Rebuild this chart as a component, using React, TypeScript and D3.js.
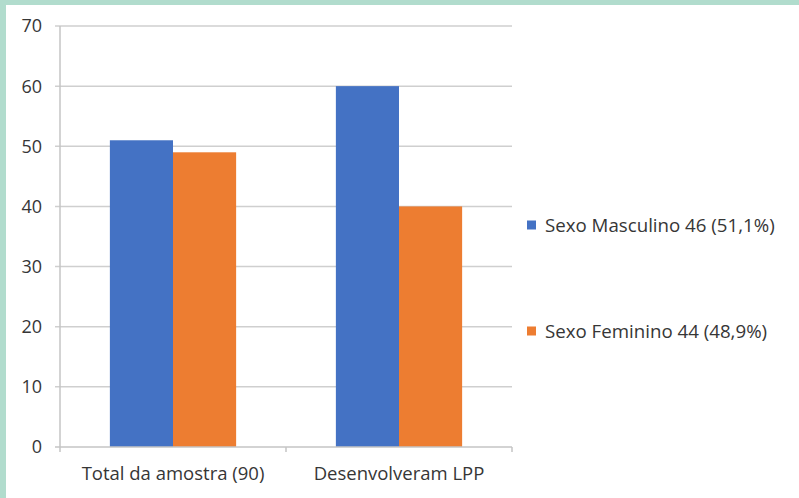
import React, { useEffect, useRef } from 'react';
import * as d3 from 'd3';

const categories = ['Total da amostra (90)', 'Desenvolveram LPP'];
const seriesNames = ['Sexo Masculino 46 (51,1%)', 'Sexo Feminino 44 (48,9%)'];
const masculino = [51, 60];
const feminino = [49, 40];
const yTicks = [0, 10, 20, 30, 40, 50, 60, 70];
const colors = ['#4472c4', '#ed7d31'];

const App: React.FC = () => {
  const svgRef = useRef<SVGSVGElement>(null);

  useEffect(() => {
    if (!svgRef.current) return;
    const width = 799;
    const height = 498;
    const plot = { left: 60, right: 512, top: 26, bottom: 447 };
    const font = '"Open Sans", sans-serif';
    const textColor = '#363636';

    const svg = d3.select(svgRef.current);
    svg.selectAll('*').remove();

    // teal frame + white panel
    svg.append('rect').attr('width', width).attr('height', height).attr('fill', '#b1dccd');
    svg.append('rect').attr('x', 6).attr('y', 5).attr('width', width - 6).attr('height', height - 5).attr('fill', '#ffffff');

    const x0 = d3.scaleBand().domain(categories).range([plot.left, plot.right]).paddingInner(0).paddingOuter(0);
    const x1 = d3.scaleBand().domain(seriesNames).range([0, x0.bandwidth()]).paddingInner(0).paddingOuter(0.79);
    const y = d3.scaleLinear().domain([0, 70]).range([plot.bottom, plot.top]);

    // gridlines
    svg.append('g')
      .selectAll('line')
      .data(yTicks.filter(t => t > 0))
      .join('line')
      .attr('x1', plot.left - 5).attr('x2', plot.right)
      .attr('y1', d => y(d)).attr('y2', d => y(d))
      .attr('stroke', '#cfcfcf').attr('stroke-width', 1.5);

    // y labels
    svg.append('g')
      .selectAll('text')
      .data(yTicks)
      .join('text')
      .attr('x', 42).attr('y', d => y(d))
      .attr('dy', '0.36em')
      .attr('text-anchor', 'end')
      .attr('font-family', font).attr('font-size', 18)
      .attr('fill', textColor)
      .text(d => d);

    // bars
    const data = [masculino, feminino];
    const g = svg.append('g');
    categories.forEach((cat, ci) => {
      seriesNames.forEach((s, si) => {
        const v = data[si][ci];
        g.append('rect')
          .attr('x', (x0(cat) ?? 0) + (x1(s) ?? 0))
          .attr('y', y(v))
          .attr('width', x1.bandwidth())
          .attr('height', y(0) - y(v))
          .attr('fill', colors[si]);
      });
    });

    // axes lines
    svg.append('line')
      .attr('x1', plot.left).attr('x2', plot.left)
      .attr('y1', plot.top).attr('y2', plot.bottom)
      .attr('stroke', '#c4c4c4').attr('stroke-width', 1.5);
    svg.append('line')
      .attr('x1', plot.left - 5).attr('x2', plot.right)
      .attr('y1', plot.bottom).attr('y2', plot.bottom)
      .attr('stroke', '#c4c4c4').attr('stroke-width', 1.5);
    const boundaries = [...categories.map(c => x0(c) ?? 0), plot.right];
    svg.append('g')
      .selectAll('line')
      .data(boundaries)
      .join('line')
      .attr('x1', d => d).attr('x2', d => d)
      .attr('y1', plot.bottom).attr('y2', plot.bottom + 5)
      .attr('stroke', '#c4c4c4').attr('stroke-width', 1.5);

    // x labels
    svg.append('g')
      .selectAll('text')
      .data(categories)
      .join('text')
      .attr('x', d => (x0(d) ?? 0) + x0.bandwidth() / 2)
      .attr('y', 480)
      .attr('text-anchor', 'middle')
      .attr('font-family', font).attr('font-size', 18.5)
      .attr('fill', textColor)
      .text(d => d);

    // legend
    const legendY = [225, 331];
    seriesNames.forEach((s, i) => {
      svg.append('rect')
        .attr('x', 527).attr('y', legendY[i] - 4.5)
        .attr('width', 9).attr('height', 9)
        .attr('fill', colors[i]);
      svg.append('text')
        .attr('x', 545).attr('y', legendY[i])
        .attr('dy', '0.36em')
        .attr('font-family', font).attr('font-size', 18.7)
        .attr('fill', textColor)
        .text(s);
    });
  }, []);

  return (
    <svg
      ref={svgRef}
      width={799}
      height={498}
      style={{ position: 'absolute', left: 0, top: 0, display: 'block' }}
    />
  );
};

export default App;
